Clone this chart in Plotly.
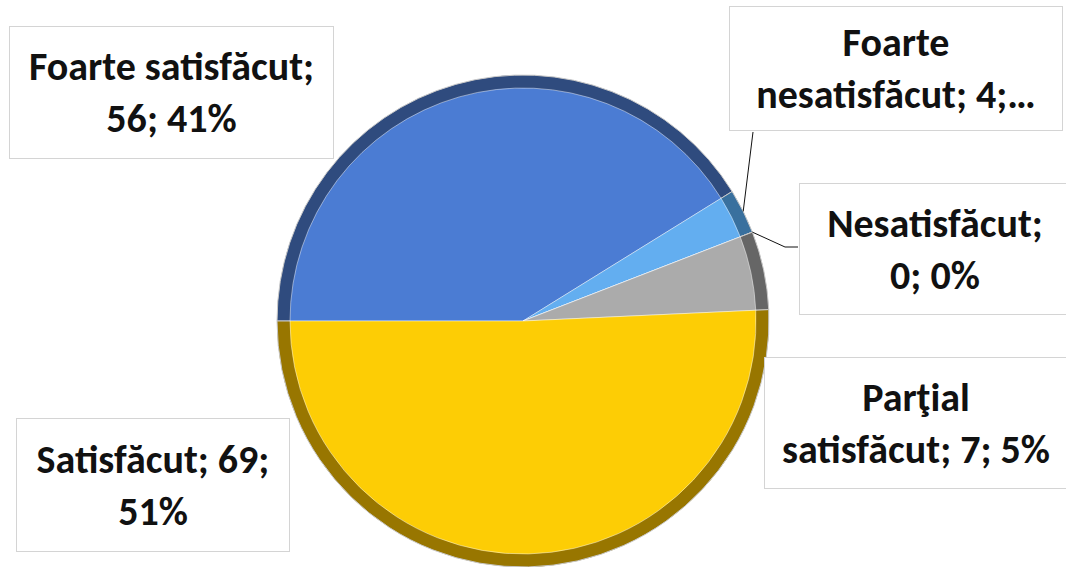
import math
import plotly.graph_objects as go

# Survey answers (count per category)
categories = ["Foarte satisfăcut", "Foarte nesatisfăcut", "Nesatisfăcut",
              "Parţial satisfăcut", "Satisfăcut"]
counts = [56, 4, 0, 7, 69]
face_colors = ["#4b7cd3", "#63aef0", "#9fa0a4", "#ababab", "#fdcd05"]
rim_colors = ["#2f4b7e", "#39709e", "#5c5c5c", "#666666", "#987600"]

W, H = 1066, 567
CX, CY = 523, 321          # pie centre, px from top-left
R_OUT, R_IN = 246, 233     # rim and face radii

FONT = "Carlito, Lato, sans-serif"


def domain(r):
    y0 = max(0.0, (H - CY - r) / H)
    return dict(x=[(CX - r) / W, (CX + r) / W],
                y=[y0, (H - CY + r) / H])


fig = go.Figure()
# dark bevelled rim underneath
fig.add_trace(go.Pie(
    labels=categories, values=counts, sort=False, direction="clockwise",
    rotation=270, domain=domain(R_OUT), textinfo="none", hoverinfo="skip",
    marker=dict(colors=rim_colors, line=dict(color="#c8c8c8", width=1)),
    showlegend=False))
# lighter face on top
fig.add_trace(go.Pie(
    labels=categories, values=counts, sort=False, direction="clockwise",
    rotation=270, domain=domain(R_IN), textinfo="none",
    marker=dict(colors=face_colors,
                line=dict(color="rgba(255,255,255,0.45)", width=1)),
    showlegend=False))

total = sum(counts)

# data label boxes: (text, centre x, centre y, width, height)
boxes = [
    ("Foarte satisfăcut;<br>56; 41%", 171, 93, 325, 133),
    ("Foarte<br>nesatisfăcut; 4;…", 896, 69, 334, 125),
    ("Nesatisfăcut;<br>0; 0%", 935, 249, 272, 132),
    ("Parţial<br>satisfăcut; 7; 5%", 916, 423, 304, 132),
    ("Satisfăcut; 69;<br>51%", 153, 485, 274, 134),
]
for txt, bx, by, bw, bh in boxes:
    fig.add_annotation(
        x=bx / W, y=1 - by / H, xref="paper", yref="paper",
        xanchor="center", yanchor="middle", showarrow=False,
        text=f"<b>{txt}</b>", align="center",
        font=dict(family=FONT, size=40, color="#111111"),
        width=bw - 2, height=bh - 2, borderpad=0,
        bgcolor="#ffffff", bordercolor="#d4d4d4", borderwidth=1)


# leader lines from slice midpoints on the rim to their label boxes
def rim_point(idx):
    before = sum(counts[:idx])
    mid = before + counts[idx] / 2
    ang = math.radians(180 - 360 * mid / total)
    return CX + R_OUT * math.cos(ang), CY - R_OUT * math.sin(ang)


def px(x, y):
    return x / W, 1 - y / H


x1, y1 = rim_point(1)
pts = [(x1, y1), (753, 132)]
x2, y2 = rim_point(2)
pts2 = [(x2, y2), (785, 247), (798, 247)]
for path in (pts, pts2):
    for (a, b), (c, d) in zip(path[:-1], path[1:]):
        ax, ay = px(a, b)
        cx_, cy_ = px(c, d)
        fig.add_shape(type="line", xref="paper", yref="paper",
                      x0=ax, y0=ay, x1=cx_, y1=cy_,
                      line=dict(color="#111111", width=1))

fig.update_layout(width=W, height=H, margin=dict(l=0, r=0, t=0, b=0),
                  paper_bgcolor="#ffffff", plot_bgcolor="#ffffff")
fig.write_html("out.html")
